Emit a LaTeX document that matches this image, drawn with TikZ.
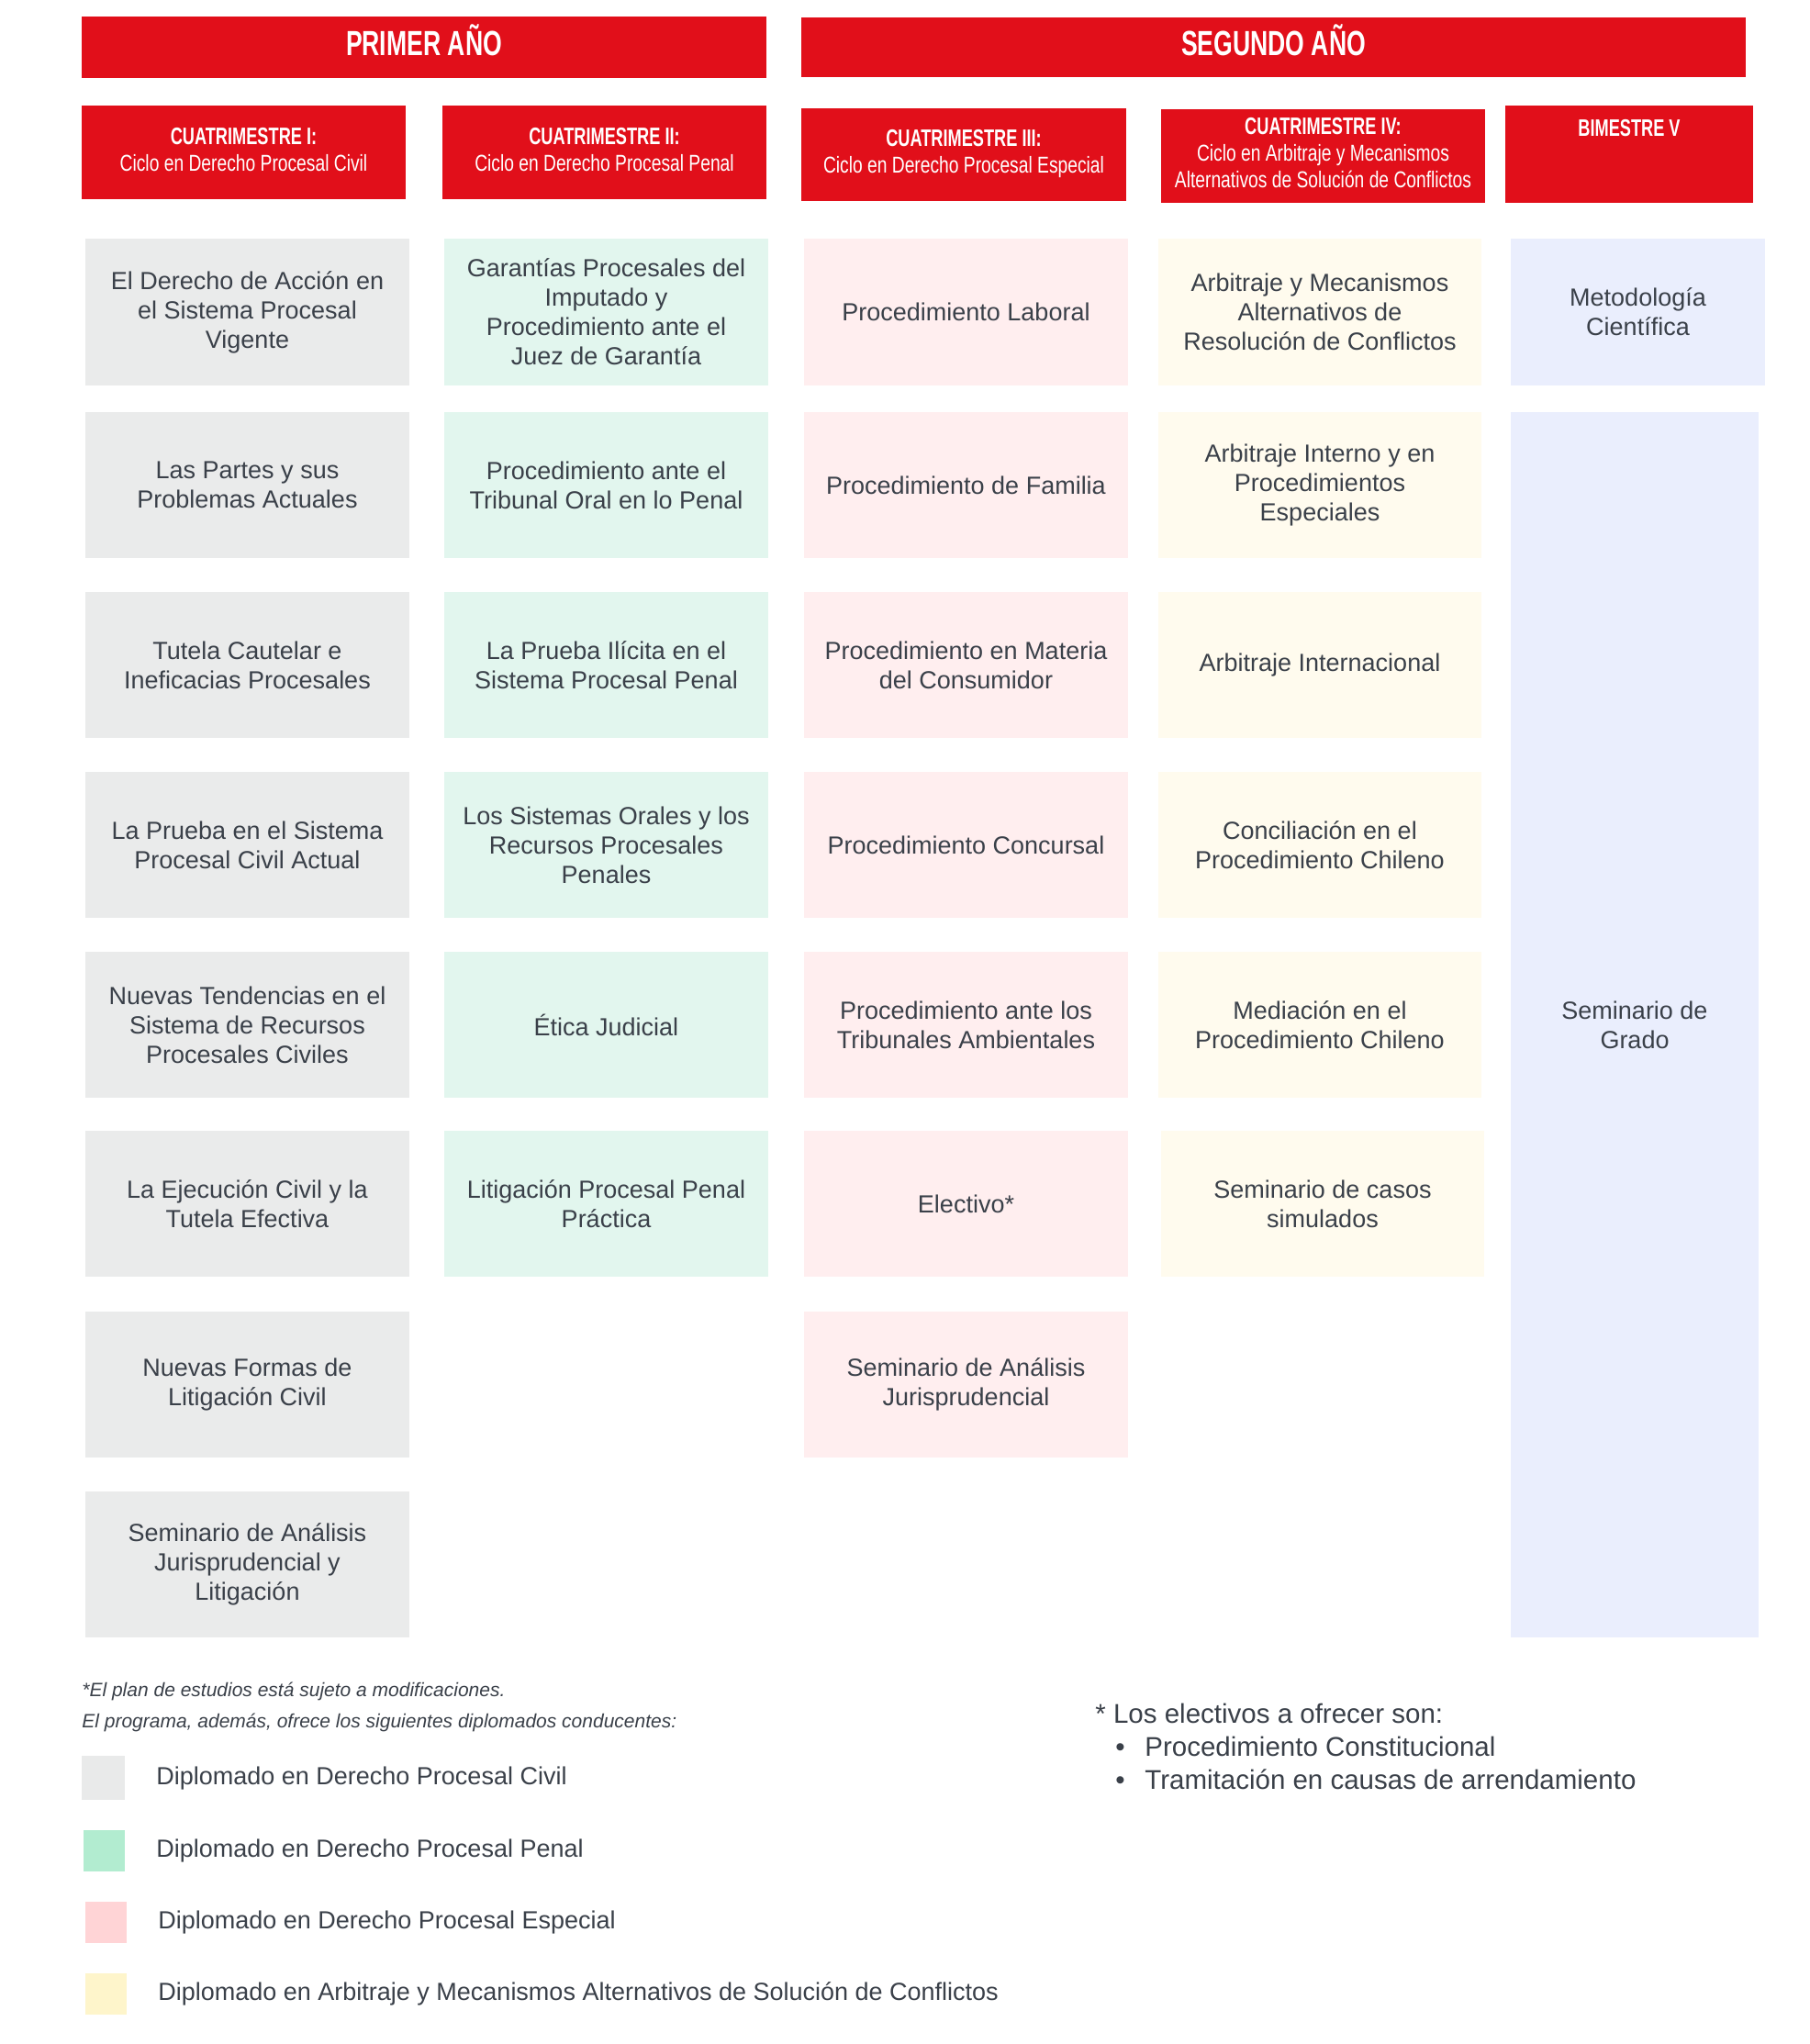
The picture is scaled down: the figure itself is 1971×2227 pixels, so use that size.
\documentclass[tikz,border=0pt]{standalone}
\usepackage{fontspec}
\setmainfont{Liberation Sans}
\newfontfamily\condr[FakeStretch=0.77]{Liberation Sans}
\newfontfamily\condb[FakeStretch=0.70]{Liberation Sans}
\definecolor{hred}{RGB}{225,15,26}
\definecolor{txt}{RGB}{58,64,73}
\definecolor{civil}{RGB}{234,235,235}
\definecolor{penal}{RGB}{226,246,238}
\definecolor{especial}{RGB}{255,238,239}
\definecolor{arbit}{RGB}{255,251,238}
\definecolor{bim}{RGB}{234,238,253}
\definecolor{lciv}{RGB}{233,234,234}
\definecolor{lpen}{RGB}{178,236,208}
\definecolor{lesp}{RGB}{255,212,214}
\definecolor{larb}{RGB}{254,245,203}
\newcommand\hb[1]{{\condb\bfseries\fontsize{13}{14.5}\selectfont #1}}
\begin{document}
\begin{tikzpicture}[x=0.5pt,y=-0.5pt,
  area/.style n args={4}{minimum width={(#3-#1)*0.5pt}, minimum height={(#4-#2)*0.5pt},
    at={({(#1+#3)/2},{(#2+#4)/2})}},
  cell/.style={inner sep=0pt, align=center, text=txt, font=\fontsize{13.5}{16}\selectfont},
  civ/.style={cell, fill=civil},
  pen/.style={cell, fill=penal},
  esp/.style={cell, fill=especial},
  arb/.style={cell, fill=arbit},
  bme/.style={cell, fill=bim},
  hdr/.style={inner sep=0pt, fill=hred, text=white, align=center, text depth=3.5pt,
    font=\condr\fontsize{12.5}{14.5}\selectfont},
  yearhdr/.style={hdr, text height=13.6pt, text depth=4.5pt,
    font=\condb\bfseries\fontsize{19}{22}\selectfont},
  legsq/.style={inner sep=0pt},
  legtxt/.style={anchor=west, inner sep=0pt, text=txt, font=\fontsize{13.5}{16}\selectfont},
  note/.style={anchor=west, inner sep=0pt, text=txt, font=\itshape\fontsize{10.5}{12}\selectfont},
  elec/.style={anchor=west, inner sep=0pt, text=txt, font=\fontsize{14.75}{18}\selectfont}
]
\useasboundingbox (0,0) rectangle (1971,2227);
\fill[white] (0,0) rectangle (1971,2227);

% year headers
\node[yearhdr, area={89}{18}{835}{85}] (y1) {PRIMER AÑO};
\node[yearhdr, area={873}{19}{1902}{84}] (y2) {SEGUNDO AÑO};

% period headers
\node[hdr, area={89}{115}{442}{217}] (h1) {\hb{CUATRIMESTRE I:}\\Ciclo en Derecho Procesal Civil};
\node[hdr, area={482}{115}{835}{217}] (h2) {\hb{CUATRIMESTRE II:}\\Ciclo en Derecho Procesal Penal};
\node[hdr, area={873}{118}{1227}{219}] (h3) {\hb{CUATRIMESTRE III:}\\Ciclo en Derecho Procesal Especial};
\node[hdr, area={1265}{119}{1618}{221}] (h4) {\hb{CUATRIMESTRE IV:}\\Ciclo en Arbitraje y Mecanismos\\Alternativos de Solución de Conflictos};
\node[hdr, area={1640}{115}{1910}{221}] (h5) {};
\node[inner sep=0pt, text=white] (h5t) at (1775,140) {\hb{BIMESTRE V}};

% column 1
\node[civ, area={93}{260}{446}{420}] (c11) {El Derecho de Acción en\\el Sistema Procesal\\Vigente};
\node[civ, area={93}{449}{446}{608}] (c12) {Las Partes y sus\\Problemas Actuales};
\node[civ, area={93}{645}{446}{804}] (c13) {Tutela Cautelar e\\Ineficacias Procesales};
\node[civ, area={93}{841}{446}{1000}] (c14) {La Prueba en el Sistema\\Procesal Civil Actual};
\node[civ, area={93}{1037}{446}{1196}] (c15) {Nuevas Tendencias en el\\Sistema de Recursos\\Procesales Civiles};
\node[civ, area={93}{1232}{446}{1391}] (c16) {La Ejecución Civil y la\\Tutela Efectiva};
\node[civ, area={93}{1429}{446}{1588}] (c17) {Nuevas Formas de\\Litigación Civil};
\node[civ, area={93}{1625}{446}{1784}] (c18) {Seminario de Análisis\\Jurisprudencial y\\Litigación};

% column 2
\node[pen, area={484}{260}{837}{420}] (c21) {Garantías Procesales del\\Imputado y\\Procedimiento ante el\\Juez de Garantía};
\node[pen, area={484}{449}{837}{608}] (c22) {Procedimiento ante el\\Tribunal Oral en lo Penal};
\node[pen, area={484}{645}{837}{804}] (c23) {La Prueba Ilícita en el\\Sistema Procesal Penal};
\node[pen, area={484}{841}{837}{1000}] (c24) {Los Sistemas Orales y los\\Recursos Procesales\\Penales};
\node[pen, area={484}{1037}{837}{1196}] (c25) {Ética Judicial};
\node[pen, area={484}{1232}{837}{1391}] (c26) {Litigación Procesal Penal\\Práctica};

% column 3
\node[esp, area={876}{260}{1229}{420}] (c31) {Procedimiento Laboral};
\node[esp, area={876}{449}{1229}{608}] (c32) {Procedimiento de Familia};
\node[esp, area={876}{645}{1229}{804}] (c33) {Procedimiento en Materia\\del Consumidor};
\node[esp, area={876}{841}{1229}{1000}] (c34) {Procedimiento Concursal};
\node[esp, area={876}{1037}{1229}{1196}] (c35) {Procedimiento ante los\\Tribunales Ambientales};
\node[esp, area={876}{1232}{1229}{1391}] (c36) {Electivo*};
\node[esp, area={876}{1429}{1229}{1588}] (c37) {Seminario de Análisis\\Jurisprudencial};

% column 4
\node[arb, area={1262}{260}{1614}{420}] (c41) {Arbitraje y Mecanismos\\Alternativos de\\Resolución de Conflictos};
\node[arb, area={1262}{449}{1614}{608}] (c42) {Arbitraje Interno y en\\Procedimientos\\Especiales};
\node[arb, area={1262}{645}{1614}{804}] (c43) {Arbitraje Internacional};
\node[arb, area={1262}{841}{1614}{1000}] (c44) {Conciliación en el\\Procedimiento Chileno};
\node[arb, area={1262}{1037}{1614}{1196}] (c45) {Mediación en el\\Procedimiento Chileno};
\node[arb, area={1265}{1232}{1617}{1391}] (c46) {Seminario de casos\\simulados};

% column 5
\node[bme, area={1646}{260}{1923}{420}] (c51) {Metodología\\Científica};
\node[bme, area={1646}{449}{1916}{1784}] (c52) {Seminario de\\Grado};

% notes
\node[note] (n1) at (89,1843) {*El plan de estudios está sujeto a modificaciones.};
\node[note] (n2) at (89,1877) {El programa, además, ofrece los siguientes diplomados conducentes:};

% legend
\node[legsq, fill=lciv, area={89}{1913}{136}{1961}] (l1) {};
\node[legsq, fill=lpen, area={91}{1994}{136}{2039}] (l2) {};
\node[legsq, fill=lesp, area={93}{2072}{138}{2117}] (l3) {};
\node[legsq, fill=larb, area={93}{2150}{138}{2195}] (l4) {};
\node[legtxt] (l1t) at (170,1937) {Diplomado en Derecho Procesal Civil};
\node[legtxt] (l2t) at (170,2016) {Diplomado en Derecho Procesal Penal};
\node[legtxt] (l3t) at (172,2094) {Diplomado en Derecho Procesal Especial};
\node[legtxt] (l4t) at (172,2172) {Diplomado en Arbitraje y Mecanismos Alternativos de Solución de Conflictos};

% electivos
\node[elec] (e0) at (1193,1867) {* Los electivos a ofrecer son:};
\node[elec] (e1) at (1215,1903) {\makebox[16pt][l]{•}Procedimiento Constitucional};
\node[elec] (e2) at (1215,1939) {\makebox[16pt][l]{•}Tramitación en causas de arrendamiento};
\end{tikzpicture}
\end{document}
